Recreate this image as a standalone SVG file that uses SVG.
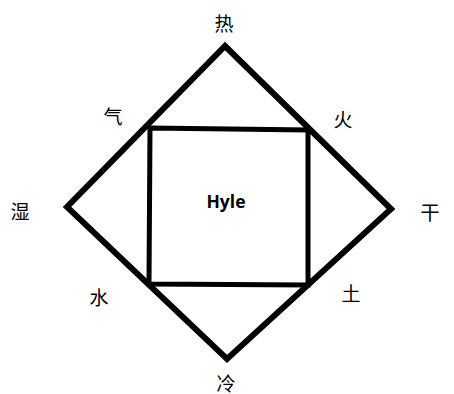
<svg xmlns="http://www.w3.org/2000/svg" width="454" height="394" viewBox="0 0 454 394">
<style>
.edge{fill:none;stroke:#000;stroke-linejoin:miter;stroke-linecap:square}
.lbl{font-family:"Noto Sans CJK SC","Noto Sans",sans-serif;font-size:19px;fill:#000;text-anchor:middle;dominant-baseline:central}
.hyle{font-family:"Open Sans","Liberation Sans",sans-serif;font-size:17.5px;font-weight:bold;fill:#000;text-anchor:middle;dominant-baseline:central}
</style>
<rect width="454" height="394" fill="#fff"/>
<g id="connectors">
<polygon class="edge" stroke-width="6" points="225,46 391,209 227,359 67,207"/>
<polygon class="edge" stroke-width="5" points="150,128 308,130 308,285 149,284"/>
</g>
<g id="hyle"><text class="hyle" x="226" y="201">Hyle</text></g>
<g id="n-re"><text class="lbl" x="224" y="22">热</text></g>
<g id="n-qi"><text class="lbl" x="113" y="115">气</text></g>
<g id="n-huo"><text class="lbl" x="343" y="118">火</text></g>
<g id="n-shi"><text class="lbl" x="20" y="210">湿</text></g>
<g id="n-gan"><text class="lbl" x="430" y="211">干</text></g>
<g id="n-shui"><text class="lbl" x="99" y="296">水</text></g>
<g id="n-tu"><text class="lbl" x="351" y="292">土</text></g>
<g id="n-leng"><text class="lbl" x="226" y="382">冷</text></g>
</svg>
